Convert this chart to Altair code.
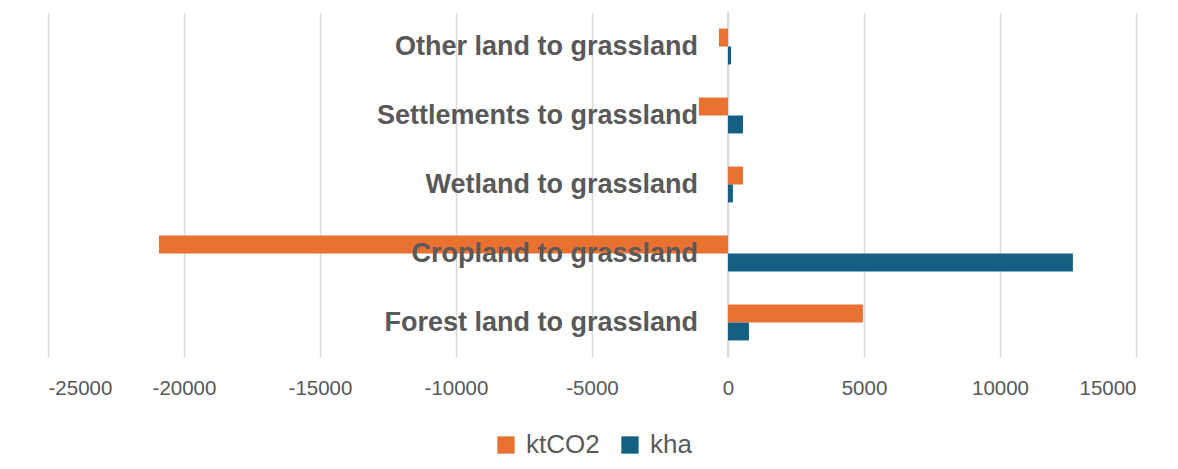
import altair as alt
import pandas as pd

categories = ["Other land to grassland", "Settlements to grassland", "Wetland to grassland",
              "Cropland to grassland", "Forest land to grassland"]
series = ["ktCO2", "kha"]
ktco2 = [-330, -1070, 550, -20920, 4960]
kha = [110, 550, 180, 12680, 770]
colors = ["#E97132", "#156082"]

rows = []
for c, a, b in zip(categories, ktco2, kha):
    rows.append({"cat": c, "series": "ktCO2", "value": a})
    rows.append({"cat": c, "series": "kha", "value": b})
df = pd.DataFrame(rows)
lab = pd.DataFrame({"cat": categories})

FONT = "Liberation Sans"
GRAY = "#595959"

yscale = alt.Scale(domain=categories, paddingInner=0.48, paddingOuter=0.24)

bars = alt.Chart(df).mark_bar().encode(
    x=alt.X("value:Q", scale=alt.Scale(domain=[-25000, 15000], nice=False),
            axis=alt.Axis(values=list(range(-25000, 15001, 5000)), title=None, grid=True,
                          gridColor="#d9d9d9", gridWidth=1.5, domain=False, ticks=False,
                          labelFont=FONT, labelFontSize=20.5, labelColor=GRAY, labelPadding=21,
                          labelExpr="'' + datum.value")),
    y=alt.Y("cat:N", scale=yscale, axis=None),
    yOffset=alt.YOffset("series:N", sort=series, scale=alt.Scale(domain=series, paddingInner=0, paddingOuter=0)),
    color=alt.Color("series:N", scale=alt.Scale(domain=series, range=colors),
                    legend=alt.Legend(title=None, orient="none", direction="horizontal",
                                      legendX=445, legendY=420, symbolType="square",
                                      symbolSize=300, symbolStrokeWidth=0, labelFont=FONT,
                                      labelFontSize=26, labelColor=GRAY, columnPadding=17,
                                      labelOffset=7)),
)

zero = alt.Chart(pd.DataFrame({"z": [0]})).mark_rule(color="#d9d9d9", strokeWidth=2).encode(
    x="z:Q")

labels = alt.Chart(lab).mark_text(align="right", baseline="middle", dx=-30, fontSize=27,
                                  fontWeight="bold", font=FONT, color=GRAY).encode(
    x=alt.datum(0), y=alt.Y("cat:N", scale=yscale), text="cat:N")

chart = alt.layer(zero, bars, labels).properties(
    width=1088, height=345,
    autosize=alt.AutoSizeParams(type="none"),
    padding={"left": 40, "top": 4, "right": 30, "bottom": 110},
).configure_view(stroke=None)

chart.save("out.html", embed_options={"renderer": "svg", "actions": False})
